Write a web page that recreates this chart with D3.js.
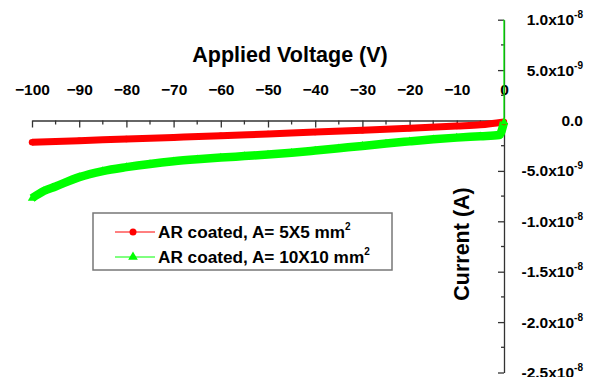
<!DOCTYPE html>
<html>
<head>
<meta charset="utf-8">
<script src="https://cdn.jsdelivr.net/npm/d3@7"></script>
<style>
  body { margin: 0; background: #fff; }
  svg { display: block; font-family: "Liberation Sans", Arial, sans-serif; }
</style>
</head>
<body>
<div id="chart"></div>
<script>
// voltage (V) and current (nA)
const voltages5 = [-100, -90, -80, -70, -60, -50, -40, -30, -20, -10, -5, 0];
const current5 = [-2.16, -2.0, -1.84, -1.68, -1.52, -1.33, -1.15, -0.96, -0.76, -0.55, -0.43, -0.15];

const voltages10 = [-100, -97.5, -95, -90, -85, -80, -75, -70, -65, -60, -55, -50, -45, -40, -35, -30, -25, -20, -15, -10, -5, -1, 0];
const current10 = [-7.72, -7.0, -6.55, -5.62, -5.02, -4.63, -4.31, -4.05, -3.85, -3.68, -3.53, -3.38, -3.2, -2.98, -2.75, -2.52, -2.28, -2.07, -1.87, -1.7, -1.56, -1.44, -0.15];

// the green trace runs up the axis at 0 V
const spikeVoltage = [0, 0];
const spikeCurrent = [-0.15, 10];

const xTicks = [-100, -90, -80, -70, -60, -50, -40, -30, -20, -10, 0];
const yTicks = [1.0e-8, 5.0e-9, 0, -5.0e-9, -1.0e-8, -1.5e-8, -2.0e-8, -2.5e-8];

const legendLabels = ["AR coated, A= 5X5 mm", "AR coated, A= 10X10 mm"];

const width = 593;
const height = 377;
const red = "#ff0000";
const green = "#00ff00";
const axisColor = "#333";

const svg = d3.select("#chart").append("svg")
  .attr("width", width)
  .attr("height", height);

const x = d3.scaleLinear().domain([-100, 0]).range([32, 504]);
const y = d3.scaleLinear().domain([-2.5e-8, 1.0e-8]).range([372.5, 19.7]);

const toPoints = (vs, is) => vs.map((v, i) => ({ v: v, i: is[i] * 1e-9 }));
const red5 = toPoints(voltages5, current5);
const green10 = toPoints(voltages10, current10);
const spike = toPoints(spikeVoltage, spikeCurrent);

/* x axis, labels above, ticks pointing down */
const xAxis = svg.append("g")
  .attr("transform", `translate(0, ${y(0)})`)
  .call(d3.axisTop(x).tickValues(xTicks).tickSizeInner(-7).tickSizeOuter(0).tickPadding(26));
xAxis.select(".domain").attr("stroke", axisColor).attr("stroke-width", 1.3);
xAxis.selectAll(".tick line").attr("stroke", axisColor).attr("stroke-width", 1.3);
xAxis.selectAll(".tick text")
  .attr("fill", "#000")
  .style("font-size", "15.5px")
  .style("font-weight", "bold");

svg.append("g")
  .selectAll("line")
  .data(d3.range(-95, 0, 10))
  .join("line")
  .attr("x1", (d) => x(d))
  .attr("x2", (d) => x(d))
  .attr("y1", y(0))
  .attr("y2", y(0) + 4)
  .attr("stroke", axisColor)
  .attr("stroke-width", 1.3);

/* y axis on the right, ticks pointing left */
const yAxis = svg.append("g")
  .attr("transform", `translate(${x(0)}, 0)`)
  .call(d3.axisLeft(y).tickValues(yTicks).tickSizeInner(6).tickSizeOuter(0).tickFormat(""));
yAxis.select(".domain").attr("stroke", axisColor).attr("stroke-width", 1.3);
yAxis.selectAll(".tick line").attr("stroke", axisColor).attr("stroke-width", 1.3);

svg.append("g")
  .selectAll("line")
  .data(yTicks.slice(1).map((d) => d + 2.5e-9))
  .join("line")
  .attr("x1", x(0) - 3)
  .attr("x2", x(0))
  .attr("y1", (d) => y(d))
  .attr("y2", (d) => y(d))
  .attr("stroke", axisColor)
  .attr("stroke-width", 1.3);

const yLabels = svg.append("g")
  .selectAll("text")
  .data(yTicks)
  .join("text")
  .attr("x", 583)
  .attr("y", (d) => y(d))
  .attr("dy", "0.36em")
  .attr("text-anchor", "end")
  .style("font-size", "15.5px")
  .style("font-weight", "bold");

yLabels.each(function (d) {
  const t = d3.select(this);
  if (d === 0) {
    t.text("0.0");
    return;
  }
  const exp = Math.floor(Math.log10(Math.abs(d)) + 1e-9);
  const mant = d / Math.pow(10, exp);
  t.append("tspan").text(mant.toFixed(1) + "x10");
  t.append("tspan").attr("dy", -7).style("font-size", "10px").text(exp);
});

/* axis titles */
svg.append("text")
  .attr("x", 290)
  .attr("y", 62)
  .attr("text-anchor", "middle")
  .style("font-size", "21.5px")
  .style("font-weight", "bold")
  .text("Applied Voltage (V)");

svg.append("text")
  .attr("transform", "translate(469, 244) rotate(-90)")
  .attr("text-anchor", "middle")
  .style("font-size", "21.5px")
  .style("font-weight", "bold")
  .text("Current (A)");

/* data */
const line = d3.line()
  .curve(d3.curveMonotoneX)
  .x((d) => x(d.v))
  .y((d) => y(d.i));

svg.append("path")
  .datum(spike)
  .attr("d", d3.line().x((d) => x(d.v)).y((d) => y(d.i)))
  .attr("fill", "none")
  .attr("stroke", green)
  .attr("stroke-width", 1.2);

svg.append("path")
  .datum(red5)
  .attr("d", line)
  .attr("fill", "none")
  .attr("stroke", red)
  .attr("stroke-width", 7);

svg.append("path")
  .datum(green10)
  .attr("d", line)
  .attr("fill", "none")
  .attr("stroke", green)
  .attr("stroke-width", 8.5);

svg.append("g")
  .selectAll("circle")
  .data(red5)
  .join("circle")
  .attr("cx", (d) => x(d.v))
  .attr("cy", (d) => y(d.i))
  .attr("r", 3.2)
  .attr("fill", red);

const triangle = d3.symbol().type(d3.symbolTriangle).size(30);
svg.append("g")
  .selectAll("path")
  .data(green10)
  .join("path")
  .attr("transform", (d) => `translate(${x(d.v)}, ${y(d.i)})`)
  .attr("d", triangle)
  .attr("fill", green);

/* legend */
const legend = svg.append("g").attr("transform", "translate(93, 213)");
legend.append("rect")
  .attr("width", 299)
  .attr("height", 57)
  .attr("fill", "#fff")
  .attr("stroke", "#777")
  .attr("stroke-width", 1.5);

const legendColors = [red, green];
legendLabels.forEach((label, i) => {
  const row = legend.append("g").attr("transform", `translate(0, ${19 + i * 25})`);
  row.append("line")
    .attr("x1", 22)
    .attr("x2", 62)
    .attr("stroke", legendColors[i])
    .attr("stroke-width", 1);
  if (i === 0) {
    row.append("circle").attr("cx", 40).attr("r", 3.5).attr("fill", red);
  } else {
    row.append("path").attr("transform", "translate(40, 0)").attr("d", d3.symbol().type(d3.symbolTriangle).size(40)).attr("fill", green);
  }
  const t = row.append("text")
    .attr("x", 65)
    .attr("y", 6)
    .style("font-size", "17.2px")
    .style("font-weight", "bold");
  t.append("tspan").text(label);
  t.append("tspan").attr("dy", -8).style("font-size", "10px").text("2");
});
</script>
</body>
</html>
